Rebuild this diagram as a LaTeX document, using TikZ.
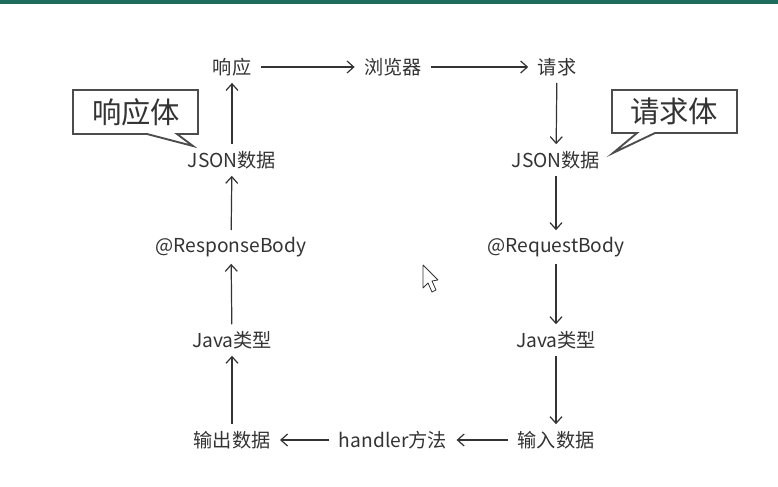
\documentclass[tikz,border=0pt]{standalone}
\usepackage{fontspec}
\setmainfont{Noto Sans CJK SC}
\usetikzlibrary{arrows.meta}
\definecolor{txt}{HTML}{333333}
\definecolor{bar}{HTML}{1F6B5C}
\begin{document}
\begin{tikzpicture}[x=0.75pt,y=-0.75pt,
  lbl/.style={font=\fontsize{14.4pt}{16pt}\selectfont, text=txt, inner xsep=7pt, inner ysep=5pt},
  flow/.style={draw=txt, line width=0.9pt, -{Straight Barb[length=5pt,width=9pt]}},
  callout/.style={draw=black!70, line width=1.4pt, fill=white, line join=miter},
  calltext/.style={font=\fontsize{22pt}{24pt}\selectfont, text=black!80}]
  \useasboundingbox (0,0) rectangle (778,486);
  \fill[white] (0,0) rectangle (778,486);
  % top bar
  \fill[bar] (0,0) rectangle (778,4);

  % top row
  \node[lbl] (resp) at (232,67) {响应};
  \node[lbl] (browser) at (393,67) {浏览器};
  \node[lbl] (req) at (557,67) {请求};

  % left column
  \node[lbl] (ljson) at (232,160) {JSON数据};
  \node[lbl] (lbody) at (231,247) {@ResponseBody};
  \node[lbl] (ljava) at (232,340) {Java类型};
  \node[lbl] (out) at (232,440) {输出数据};

  % right column
  \node[lbl] (rjson) at (556,160) {JSON数据};
  \node[lbl] (rbody) at (556,247) {@RequestBody};
  \node[lbl] (rjava) at (556,340) {Java类型};
  \node[lbl] (in) at (556,440) {输入数据};

  % bottom middle
  \node[lbl] (handler) at (393,440) {handler方法};

  % connectors
  \draw[flow] (resp) -- (browser);
  \draw[flow] (browser) -- (req);
  \draw[flow] (req) -- (rjson);
  \draw[flow] (rjson) -- (rbody);
  \draw[flow] (rbody) -- (rjava);
  \draw[flow] (rjava) -- (in);
  \draw[flow] (in) -- (handler);
  \draw[flow] (handler) -- (out);
  \draw[flow] (out) -- (ljava);
  \draw[flow] (ljava) -- (lbody);
  \draw[flow] (lbody) -- (ljson);
  \draw[flow] (ljson) -- (resp);

  % speech bubbles
  \draw[callout] (73,90) -- (198,90) -- (198,134) -- (177,134) -- (193,146)
    -- (147,134) -- (73,134) -- cycle;
  \node[calltext] (respbody) at (136,112) {响应体};

  \draw[callout] (612,90) -- (737,90) -- (737,133) -- (655,133) -- (613,153)
    -- (637,133) -- (612,133) -- cycle;
  \node[calltext] (reqbody) at (674,111) {请求体};

  % mouse pointer
  \draw[fill=white, draw=black!80, line width=0.6pt, line join=round]
    (423,265) -- (423,288) -- (428,283) -- (432,292) -- (436,290)
    -- (432,281) -- (438,280) -- cycle;
\end{tikzpicture}
\end{document}
